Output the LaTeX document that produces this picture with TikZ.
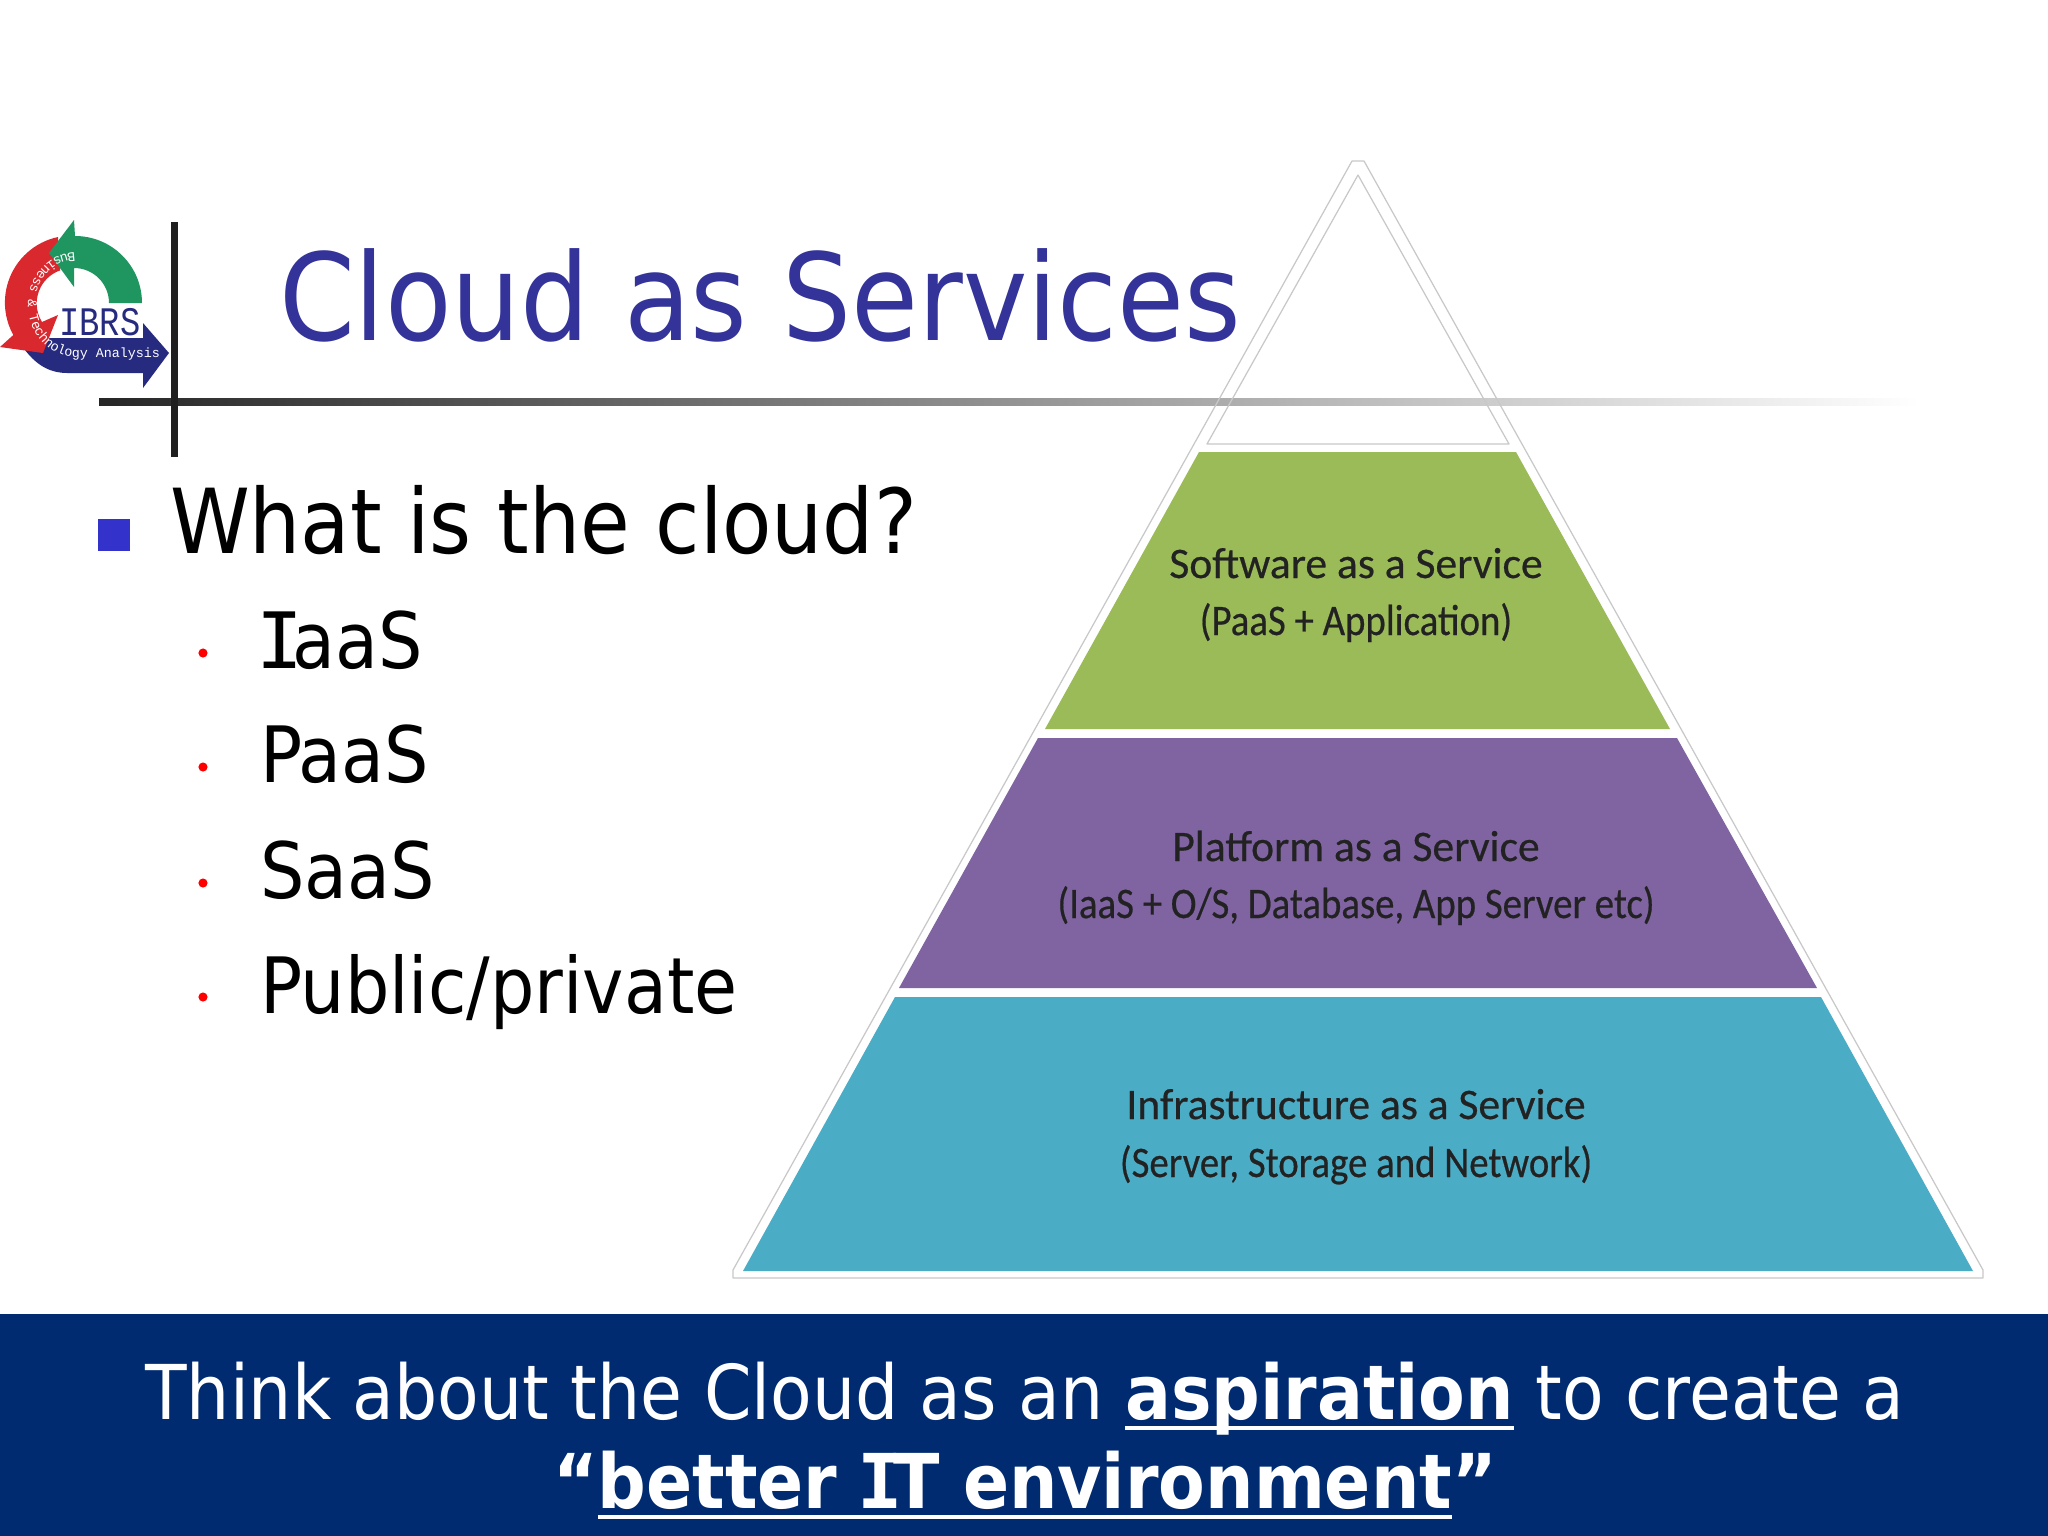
\documentclass[tikz,border=0pt]{standalone}
\usepackage{fontspec}
\usetikzlibrary{decorations.text}
\setmainfont{DejaVu Sans Condensed}
\newfontfamily\calib[FakeBold=0.5]{Carlito}
\newfontfamily\logomono{Liberation Mono}
\newfontfamily\serifi{DejaVu Sans Mono}
\newcommand{\SerifI}{{\serifi\kern-0.05em I\kern-0.13em}}
\newsavebox{\ulbox}
\newcommand{\thickul}[1]{\sbox{\ulbox}{#1}\rlap{\rule[-3.2pt]{\wd\ulbox}{1.1pt}}\usebox{\ulbox}}
\definecolor{titleblue}{HTML}{333399}
\definecolor{bandblue}{HTML}{002B70}
\definecolor{bulletblue}{HTML}{3333CC}
\definecolor{saasgreen}{HTML}{9BBB59}
\definecolor{paaspurple}{HTML}{8064A2}
\definecolor{iaasteal}{HTML}{4BACC6}
\definecolor{outlinegray}{HTML}{C8C8C8}
\definecolor{logogreen}{HTML}{1F9560}
\definecolor{logored}{HTML}{D9282E}
\definecolor{logoblue}{HTML}{262B80}
\definecolor{textdark}{HTML}{222222}
\tikzset{
  txt/.style={anchor=base west,inner sep=0pt,outer sep=0pt},
  sub/.style={txt,font=\fontsize{22.1}{26}\selectfont},
  pyr/.style={anchor=base,inner sep=0pt,text=textdark,font=\calib\fontsize{12.4}{14}\selectfont},
  pyrsub/.style={pyr,xscale=0.89},
  band/.style={anchor=base,inner sep=0pt,text=white,font=\fontsize{21.5}{26}\selectfont},
  redbul/.style={circle,fill=red,inner sep=0pt,minimum size=2.6pt},
  outl/.style={draw=outlinegray,line width=0.35pt,line join=round}
}
\begin{document}
\begin{tikzpicture}[x=0.01cm,y=0.01cm]
\useasboundingbox (0,-1536) rectangle (2048,0);
\fill[white] (0,-1536) rectangle (2048,0);
% rules
\shade[left color=black!85,right color=white] (99,-398.5) rectangle (1920,-405.5);
\fill[black!88] (170.5,-222) rectangle (177.5,-457);
% logo
\fill[logoblue] (25,-350) .. controls (38,-367) and (52,-373) .. (67,-373) -- (143,-373) -- (143,-388) -- (169,-353) -- (143,-323) -- (143,-338) -- (50,-338) -- cycle;
\fill[white] (60,-305) rectangle (142,-337);
\fill[logored] (58,-237) arc (102:209:67) -- (0,-347) -- (43,-353) -- (58,-315) -- (42,-322) arc (212:109:35) -- cycle;
\fill[logogreen] (142,-303) arc (0:90:67) -- (74,-220) -- (49,-253) -- (74,-287) -- (74,-268) arc (90:0:35) -- cycle;
\node[anchor=base,inner sep=0pt,text=logoblue,font=\logomono\fontsize{9.6}{10}\selectfont,yscale=1.2] (logoname) at (100,-335) {IBRS};
\path[decorate,decoration={text along path,text align=left,
  text={|\logomono\fontsize{3.8}{4}\selectfont\color{white}|Business {\&} Technology Analysis}}]
  (75,-253) arc (90:270:47 and 52) -- (170,-357);
% title and bullets
\node[txt,text=titleblue,font=\fontsize{34.4}{40}\selectfont] (title) at (279,-340) {Cloud as Services};
\fill[bulletblue] (98,-519) rectangle (130,-551);
\node[txt,font=\fontsize{25.5}{30}\selectfont] (q) at (170,-553) {What is the cloud?};
\node[redbul] (b1) at (203,-653) {};
\node[redbul] (b2) at (203,-767) {};
\node[redbul] (b3) at (203,-883) {};
\node[redbul] (b4) at (203,-997) {};
\node[sub] (s1) at (260,-668) {\SerifI aaS};
\node[sub] (s2) at (260,-782) {PaaS};
\node[sub] (s3) at (260,-898) {SaaS};
\node[sub] (s4) at (260,-1013) {Public/private};
% pyramid
\draw[outl] (1352,-161) -- (1364,-161) -- (1983,-1270) -- (1983,-1278) -- (733,-1278) -- (733,-1270) -- cycle;
\draw[outl] (1358,-175) -- (1509,-444) -- (1207,-444) -- cycle;
\fill[saasgreen] (1199,-452) -- (1516,-452) -- (1670,-729) -- (1045,-729) -- cycle;
\fill[paaspurple] (1038,-738) -- (1677,-738) -- (1817,-988) -- (899,-988) -- cycle;
\fill[iaasteal] (895,-997) -- (1821,-997) -- (1973,-1271) -- (743,-1271) -- cycle;
\node[pyr] (saas1) at (1356,-578) {Software as a Service};
\node[pyrsub] (saas2) at (1356,-635) {(PaaS + Application)};
\node[pyr] (paas1) at (1356,-861) {Platform as a Service};
\node[pyrsub] (paas2) at (1356,-918) {(IaaS + O/S, Database, App Server etc)};
\node[pyr] (iaas1) at (1356,-1119) {Infrastructure as a Service};
\node[pyrsub] (iaas2) at (1356,-1177) {(Server, Storage and Network)};
% band
\fill[bandblue] (0,-1314) rectangle (2048,-1536);
\node[band] (l1) at (1025,-1419) {Think about the Cloud as an \thickul{\textbf{aspiration}} to create a};
\node[band] (l2) at (1025,-1508) {\textbf{“\thickul{better \SerifI T environment}”}};
\end{tikzpicture}
\end{document}
